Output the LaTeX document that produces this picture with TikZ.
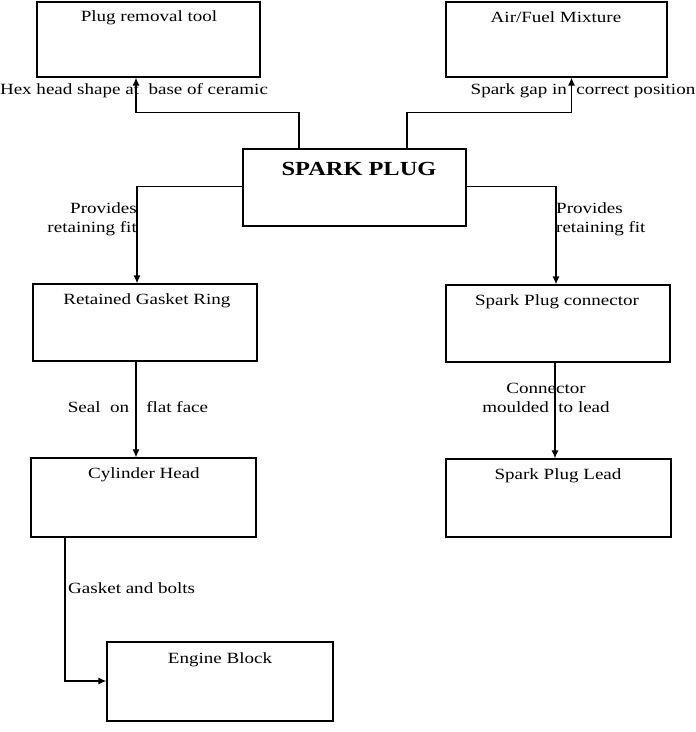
\documentclass[tikz,border=0pt]{standalone}
\usepackage{fontspec}
\setmainfont{Liberation Serif}[FakeStretch=1.22]
\usetikzlibrary{arrows.meta}
\begin{document}
\begin{tikzpicture}[x=1pt,y=-1pt,
  box/.style={draw,line width=1.2pt,inner sep=0pt},
  ttl/.style={font=\fontsize{15.6}{17}\selectfont,anchor=center,inner sep=0pt},
  lbl/.style={font=\fontsize{15.6}{19}\selectfont,inner sep=0pt},
  conn/.style={line width=1.2pt},
  arr/.style={conn,-{Latex[length=8pt,width=7pt]}}]
\useasboundingbox (0,0) rectangle (696,732);
% boxes
\node[box,minimum width=223pt,minimum height=75pt] (prt) at (148.5,39.5) {};
\node[box,minimum width=221pt,minimum height=75pt] (afm) at (556.5,39.5) {};
\node[box,minimum width=223pt,minimum height=77pt] (sp) at (354.5,187.5) {};
\node[box,minimum width=224pt,minimum height=77pt] (rgr) at (145,322.5) {};
\node[box,minimum width=224pt,minimum height=77pt] (spc) at (558,323.5) {};
\node[box,minimum width=225pt,minimum height=79pt] (ch) at (143.5,497.5) {};
\node[box,minimum width=225pt,minimum height=78pt] (spl) at (558.5,498) {};
\node[box,minimum width=226pt,minimum height=79pt] (eb) at (220,681.5) {};
% titles
\node[ttl] (prt-t) at (149,17.5) {Plug removal tool};
\node[ttl] (afm-t) at (556,17.5) {Air/Fuel Mixture};
\node[ttl,font=\bfseries\fontsize{20}{22}\selectfont] (sp-t) at (359,168.5) {SPARK PLUG};
\node[ttl] (rgr-t) at (147,300.5) {Retained Gasket Ring};
\node[ttl] (spc-t) at (557,301.5) {Spark Plug connector};
\node[ttl] (ch-t) at (144,474.5) {Cylinder Head};
\node[ttl] (spl-t) at (558,475.5) {Spark Plug Lead};
\node[ttl] (eb-t) at (220,659.5) {Engine Block};
% connectors
\draw[arr] ([xshift=-55.5pt]sp.north) -- ++(0,-36) -| ([xshift=-12.5pt]prt.south);
\draw[arr] ([xshift=52.5pt]sp.north) -- ++(0,-36) -| ([xshift=15pt]afm.south);
\draw[arr] ([yshift=1pt]sp.west) -| ([xshift=-8pt]rgr.north);
\draw[arr] ([yshift=1pt]sp.east) -| ([xshift=-2pt]spc.north);
\draw[arr] ([xshift=-9pt]rgr.south) -- ([xshift=-9pt]rgr.south |- ch.north);
\draw[arr] ([xshift=-3pt]spc.south) -- ([xshift=-3pt]spc.south |- spl.north);
\draw[arr] ([xshift=-78.5pt]ch.south) |- ([yshift=0.5pt]eb.west);
% labels
\node[lbl] (l1) at (134,91) {Hex head shape at\ \ base of ceramic};
\node[lbl] (l2) at (583,91) {Spark gap in\ \ correct position};
\node[lbl,align=right,anchor=east] (l3) at (137,219.5) {Provides\\retaining fit};
\node[lbl,align=left,anchor=west] (l4) at (556,219.5) {Provides\\retaining fit};
\node[lbl] (l5) at (138,407) {Seal\ \ on\hspace{1.1em}flat face};
\node[lbl,align=center] (l6) at (546,397.5) {Connector\\moulded\ \ to lead};
\node[lbl,anchor=west] (l7) at (68,588) {Gasket and bolts};
\end{tikzpicture}
\end{document}
